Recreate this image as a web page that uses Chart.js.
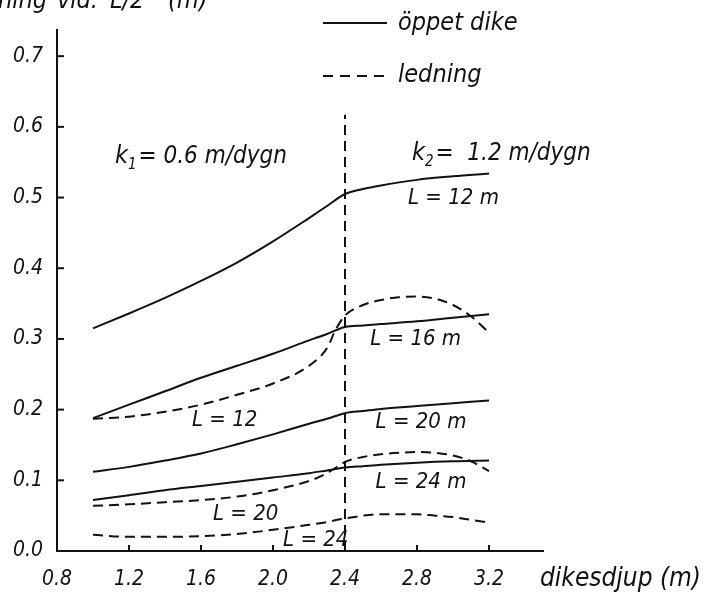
<!DOCTYPE html>
<html>
<head>
<meta charset="utf-8">
<script src="https://cdn.jsdelivr.net/npm/chart.js@4.4.1/dist/chart.umd.min.js"></script>
<style>
  html, body { margin: 0; padding: 0; background: #fff; }
  canvas { display: block; }
</style>
</head>
<body>
<canvas id="c" width="708" height="594"></canvas>
<script>
// ---------- data ----------
const xTickValues = [0.8, 1.2, 1.6, 2.0, 2.4, 2.8, 3.2];
const yTickValues = [0.0, 0.1, 0.2, 0.3, 0.4, 0.5, 0.6, 0.7];

// öppet dike (solid)
const dikeDepth = [1.0, 1.2, 1.4, 1.6, 1.8, 2.0, 2.2, 2.3, 2.4, 2.5, 2.6, 2.8, 3.0, 3.2];
const dikeL12 = [0.315, 0.336, 0.358, 0.382, 0.408, 0.438, 0.471, 0.488, 0.505, 0.512, 0.517, 0.525, 0.530, 0.534];
const dikeL16 = [0.188, 0.207, 0.226, 0.245, 0.262, 0.279, 0.298, 0.307, 0.317, 0.319, 0.321, 0.325, 0.330, 0.335];
const dikeL20 = [0.112, 0.119, 0.128, 0.138, 0.151, 0.165, 0.180, 0.187, 0.195, 0.198, 0.201, 0.205, 0.209, 0.213];
const dikeL24 = [0.072, 0.079, 0.086, 0.092, 0.098, 0.104, 0.110, 0.114, 0.118, 0.120, 0.122, 0.125, 0.127, 0.128];

// ledning (dashed)
const ledDepth = [1.0, 1.2, 1.4, 1.6, 1.8, 2.0, 2.2, 2.3, 2.35, 2.4, 2.5, 2.6, 2.7, 2.8, 2.9, 3.0, 3.1, 3.2];
const ledL12 = [0.187, 0.190, 0.197, 0.207, 0.221, 0.237, 0.262, 0.287, 0.314, 0.333, 0.348, 0.355, 0.359, 0.360, 0.357, 0.348, 0.332, 0.309];
const ledL20 = [0.064, 0.066, 0.069, 0.072, 0.077, 0.086, 0.099, 0.110, 0.118, 0.126, 0.133, 0.137, 0.139, 0.140, 0.139, 0.135, 0.127, 0.113];
const ledL24 = [0.023, 0.020, 0.020, 0.021, 0.024, 0.030, 0.037, 0.041, 0.044, 0.046, 0.050, 0.052, 0.052, 0.052, 0.050, 0.048, 0.044, 0.040];

// boundary between k1 and k2 zones
const boundaryX = [2.4, 2.4];
const boundaryY = [0.0, 0.617];

// text labels
const legendLabels = ['öppet dike', 'ledning'];
const yAxisTitleWords = ['ning', 'vid.', 'L/2', '(m)'];
const xAxisTitle = 'dikesdjup (m)';
const noteTexts = ['k', '1', '= 0.6 m/dygn', 'k', '2', '=  1.2 m/dygn',
  'L = 12 m', 'L = 16 m', 'L = 20 m', 'L = 24 m', 'L = 12', 'L = 20', 'L = 24'];

// ---------- helpers ----------
const FONT = "'Liberation Sans Narrow', 'DejaVu Sans Condensed', 'Roboto', sans-serif";
const INK = '#111';
const pts = (xs, ys) => xs.map((x, i) => ({ x: x, y: ys[i] }));

function solid(label, xs, ys) {
  return { label, data: pts(xs, ys), borderColor: INK, borderWidth: 2, pointRadius: 0,
    fill: false, cubicInterpolationMode: 'monotone' };
}
function dashed(label, xs, ys) {
  return { label, data: pts(xs, ys), borderColor: INK, borderWidth: 2, pointRadius: 0,
    fill: false, borderDash: [10, 6], cubicInterpolationMode: 'monotone' };
}

// label placements in data units
const notePlacements = [
  { t: 6, x: 2.75, y: 0.491 },
  { t: 7, x: 2.54, y: 0.291 },
  { t: 8, x: 2.57, y: 0.174 },
  { t: 9, x: 2.57, y: 0.089 },
  { t: 10, x: 1.55, y: 0.177 },
  { t: 11, x: 1.667, y: 0.044 },
  { t: 12, x: 2.056, y: 0.007 }
];
const yTitleX = [-2, 57, 110, 168];

const decorPlugin = {
  id: 'decor',
  beforeDraw(chart) {
    const ctx = chart.ctx;
    ctx.save();
    ctx.fillStyle = '#fff';
    ctx.fillRect(0, 0, chart.width, chart.height);
    ctx.restore();
  },
  afterDraw(chart) {
    const ctx = chart.ctx;
    const xs = chart.scales.x, ys = chart.scales.y;
    ctx.save();
    ctx.strokeStyle = INK;
    ctx.fillStyle = INK;
    ctx.lineWidth = 2;
    // inward tick marks
    ys.ticks.forEach(t => {
      const py = ys.getPixelForValue(t.value);
      if (t.value === 0) return;
      ctx.beginPath(); ctx.moveTo(xs.left, py); ctx.lineTo(xs.left + 7, py); ctx.stroke();
    });
    xs.ticks.forEach(t => {
      const px = xs.getPixelForValue(t.value);
      if (t.value === xs.min) return;
      ctx.beginPath(); ctx.moveTo(px, ys.bottom); ctx.lineTo(px, ys.bottom - 6); ctx.stroke();
    });

    ctx.textBaseline = 'alphabetic';
    ctx.textAlign = 'left';
    // k1 / k2 annotations
    const drawK = (x, y, sub, rest) => {
      let px = xs.getPixelForValue(x), py = ys.getPixelForValue(y);
      ctx.font = 'italic 25px ' + FONT;
      ctx.fillText(noteTexts[sub - 1], px, py);
      px += ctx.measureText(noteTexts[sub - 1]).width;
      ctx.font = 'italic 15px ' + FONT;
      ctx.fillText(noteTexts[sub], px, py + 6);
      px += ctx.measureText(noteTexts[sub]).width + 2;
      ctx.font = 'italic 24px ' + FONT;
      ctx.fillText(noteTexts[rest], px, py);
    };
    drawK(1.122, 0.549, 1, 2);
    drawK(2.772, 0.553, 4, 5);

    ctx.font = 'italic 22px ' + FONT;
    notePlacements.forEach(n => {
      ctx.fillText(noteTexts[n.t], xs.getPixelForValue(n.x), ys.getPixelForValue(n.y));
    });

    // legend
    ctx.lineWidth = 2;
    ctx.beginPath(); ctx.moveTo(323, 23); ctx.lineTo(387, 23); ctx.stroke();
    ctx.setLineDash([10, 7]);
    ctx.beginPath(); ctx.moveTo(323, 76); ctx.lineTo(389, 76); ctx.stroke();
    ctx.setLineDash([]);
    ctx.font = 'italic 25px ' + FONT;
    ctx.fillText(legendLabels[0], 398, 30);
    ctx.fillText(legendLabels[1], 398, 82);

    // axis titles
    ctx.font = 'italic 25px ' + FONT;
    yAxisTitleWords.forEach((w, i) => ctx.fillText(w, yTitleX[i], 8));
    ctx.font = 'italic 26px ' + FONT;
    ctx.fillText(xAxisTitle, 540, 586);
    ctx.restore();
  }
};

new Chart(document.getElementById('c'), {
  type: 'line',
  data: {
    datasets: [
      solid('öppet dike L=12', dikeDepth, dikeL12),
      solid('öppet dike L=16', dikeDepth, dikeL16),
      solid('öppet dike L=20', dikeDepth, dikeL20),
      solid('öppet dike L=24', dikeDepth, dikeL24),
      dashed('ledning L=12', ledDepth, ledL12),
      dashed('ledning L=20', ledDepth, ledL20),
      dashed('ledning L=24', ledDepth, ledL24),
      { label: 'gräns', data: pts(boundaryX, boundaryY), borderColor: INK, borderWidth: 2,
        borderDash: [10, 6], pointRadius: 0, tension: 0 }
    ]
  },
  options: {
    responsive: false,
    animation: false,
    layout: { padding: { top: 30, right: 165, left: 0, bottom: 0 } },
    plugins: { legend: { display: false }, tooltip: { enabled: false } },
    scales: {
      x: {
        type: 'linear', min: 0.8, max: 3.5,
        afterBuildTicks: s => { s.ticks = xTickValues.map(v => ({ value: v })); },
        afterFit: s => { s.height = 43; },
        grid: { display: false, drawTicks: false },
        border: { display: true, color: INK, width: 2 },
        ticks: { color: INK, padding: 16, maxRotation: 0, autoSkip: false,
          font: { family: FONT, size: 21, style: 'italic' },
          callback: v => Number(v).toFixed(1) }
      },
      y: {
        type: 'linear', min: 0, max: 0.737,
        afterBuildTicks: s => { s.ticks = yTickValues.map(v => ({ value: v })); },
        afterFit: s => { s.width = 57; },
        grid: { display: false, drawTicks: false },
        border: { display: true, color: INK, width: 2 },
        ticks: { color: INK, padding: 14, autoSkip: false,
          font: { family: FONT, size: 21, style: 'italic' },
          callback: v => Number(v).toFixed(1) }
      }
    }
  },
  plugins: [decorPlugin]
});
</script>
</body>
</html>
